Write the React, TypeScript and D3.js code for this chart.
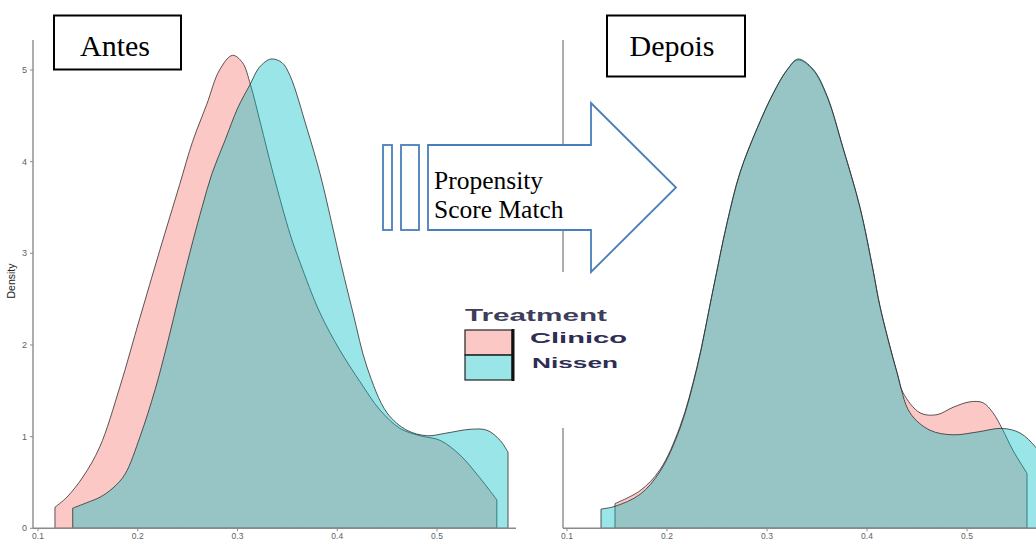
import React from "react";
import * as d3 from "d3";

// ---- Data: density estimates ----
// "Antes" (before matching)
const antesClinicoX = [0.117, 0.129, 0.145, 0.162, 0.182, 0.202, 0.222, 0.242, 0.255, 0.269, 0.282, 0.295, 0.305, 0.313, 0.323, 0.336, 0.353, 0.3627, 0.3827, 0.4028, 0.4228, 0.4429, 0.4629, 0.483, 0.503, 0.523, 0.543, 0.56];
const antesClinicoY = [0.23, 0.34, 0.56, 0.89, 1.54, 2.29, 3.03, 3.75, 4.22, 4.62, 5.0, 5.16, 5.08, 4.84, 4.42, 3.86, 3.2, 2.9, 2.35, 1.94, 1.6, 1.29, 1.09, 1.01, 0.96, 0.8, 0.55, 0.31];
const antesNissenX = [0.1348, 0.1491, 0.1622, 0.1752, 0.1872, 0.2023, 0.2173, 0.2293, 0.2423, 0.2554, 0.2644, 0.2744, 0.2874, 0.3004, 0.3125, 0.322, 0.3336, 0.3446, 0.3526, 0.3697, 0.3827, 0.3957, 0.4028, 0.4158, 0.4298, 0.4499, 0.4699, 0.49, 0.51, 0.5331, 0.5501, 0.5632, 0.5712];
const antesNissenY = [0.22, 0.28, 0.34, 0.44, 0.59, 1.0, 1.51, 2.0, 2.58, 3.14, 3.5, 3.87, 4.23, 4.59, 4.84, 5.03, 5.12, 5.08, 4.94, 4.36, 3.87, 3.27, 2.93, 2.35, 1.76, 1.26, 1.07, 1.01, 1.04, 1.08, 1.07, 0.96, 0.83];

// "Depois" (after matching)
const depoisClinicoX = [0.148, 0.173, 0.193, 0.213, 0.23, 0.246, 0.26, 0.273, 0.29, 0.306, 0.32, 0.331, 0.346, 0.36, 0.376, 0.393, 0.406, 0.413, 0.43, 0.436, 0.453, 0.47, 0.486, 0.503, 0.516, 0.526, 0.535, 0.546, 0.56];
const depoisClinicoY = [0.27, 0.41, 0.64, 1.11, 1.76, 2.6, 3.33, 3.88, 4.36, 4.74, 5.0, 5.11, 5.0, 4.71, 4.15, 3.5, 2.82, 2.42, 1.7, 1.48, 1.26, 1.24, 1.32, 1.38, 1.37, 1.26, 1.09, 0.85, 0.6];
const depoisNissenX = [0.134, 0.148, 0.173, 0.193, 0.213, 0.23, 0.246, 0.26, 0.273, 0.29, 0.306, 0.32, 0.331, 0.346, 0.36, 0.376, 0.393, 0.406, 0.413, 0.43, 0.443, 0.463, 0.486, 0.51, 0.535, 0.553, 0.569, 0.583, 0.59];
const depoisNissenY = [0.21, 0.24, 0.37, 0.62, 1.09, 1.75, 2.6, 3.33, 3.88, 4.36, 4.74, 5.0, 5.12, 5.01, 4.72, 4.15, 3.5, 2.82, 2.42, 1.7, 1.26, 1.07, 1.02, 1.05, 1.09, 1.04, 0.88, 0.64, 0.5];

const xTicks = [0.1, 0.2, 0.3, 0.4, 0.5];
const yTicks = [0, 1, 2, 3, 4, 5];
const treatments = ["Clinico", "Nissen"];
const treatmentColors = ["#F8766D", "#00BFC4"];

const zip = (xs: number[], ys: number[]) => xs.map((x, i) => [x, ys[i]] as [number, number]);

const W = 1036;
const H = 540;

const yScale = d3.scaleLinear().domain([0, 5]).range([528.3, 70]);
const xLeft = d3.scaleLinear().domain([0.1, 0.5]).range([38, 437]);
const xRight = d3.scaleLinear().domain([0.1, 0.5]).range([567, 967]);

function areaPath(xs: d3.ScaleLinear<number, number>, data: [number, number][]) {
  const gen = d3
    .area<[number, number]>()
    .x((d) => xs(d[0]))
    .y0(yScale(0))
    .y1((d) => yScale(d[1]))
    .curve(d3.curveCatmullRom.alpha(0.5));
  return gen(data) || "";
}

const axisColor = "#8a8a8a";
const tickText = "#5a5f6a";

function Panel({
  xs,
  series,
  axisX0,
  axisX1,
  showY,
}: {
  xs: d3.ScaleLinear<number, number>;
  series: [number, number][][];
  axisX0: number;
  axisX1: number;
  showY: boolean;
}) {
  return (
    <g>
      {series.map((s, i) => (
        <path
          key={i}
          d={areaPath(xs, s)}
          fill={treatmentColors[i]}
          fillOpacity={0.4}
          stroke="#2e2e2e"
          strokeWidth={0.8}
        />
      ))}
      {/* y axis */}
      <line x1={axisX0} x2={axisX0} y1={40} y2={yScale(0)} stroke={axisColor} strokeWidth={1.4} />
      {showY &&
        yTicks.map((t) => (
          <g key={t}>
            <line x1={axisX0 - 3} x2={axisX0} y1={yScale(t)} y2={yScale(t)} stroke={axisColor} strokeWidth={1} />
            <text
              x={axisX0 - 6}
              y={yScale(t)}
              dy="0.35em"
              textAnchor="end"
              fontSize={9}
              fontFamily="Liberation Sans, Arial, sans-serif"
              fill={tickText}
            >
              {t}
            </text>
          </g>
        ))}
      {/* x axis */}
      <line x1={axisX0} x2={axisX1} y1={yScale(0)} y2={yScale(0)} stroke={axisColor} strokeWidth={1.4} />
      {xTicks.map((t) => (
        <g key={t}>
          <line x1={xs(t)} x2={xs(t)} y1={yScale(0)} y2={yScale(0) + 3} stroke={axisColor} strokeWidth={1} />
          <text
            x={xs(t)}
            y={yScale(0) + 10.5}
            textAnchor="middle"
            fontSize={8.5}
            fontFamily="Liberation Sans, Arial, sans-serif"
            fill={tickText}
          >
            {t.toFixed(1)}
          </text>
        </g>
      ))}
    </g>
  );
}

export default function App() {
  const antes = [zip(antesClinicoX, antesClinicoY), zip(antesNissenX, antesNissenY)];
  const depois = [zip(depoisClinicoX, depoisClinicoY), zip(depoisNissenX, depoisNissenY)];
  const arrowColor = "#4a7ebb";
  return (
    <svg
      width={W}
      height={H}
      style={{ position: "absolute", left: 0, top: 0, display: "block", background: "#fff" }}
    >
      <rect x={0} y={0} width={W} height={H} fill="#fff" />
      <Panel xs={xLeft} series={antes} axisX0={33} axisX1={516} showY={true} />
      <text
        transform={`translate(15,${281}) rotate(-90)`}
        textAnchor="middle"
        fontSize={10.5}
        fontFamily="Liberation Sans, Arial, sans-serif"
        fill="#222"
      >
        Density
      </text>
      <Panel xs={xRight} series={depois} axisX0={563} axisX1={W} showY={false} />

      {/* legend (pasted image with white background) */}
      <rect x={455} y={272} width={185} height={156} fill="#fff" />
      <text
        x={465}
        y={321}
        fontSize={17}
        fontWeight={600}
        fontFamily="Liberation Sans, Arial, sans-serif"
        fill="#3d3d5c"
        textLength={142}
        lengthAdjust="spacingAndGlyphs"
      >
        Treatment
      </text>
      {treatments.map((t, i) => (
        <g key={t}>
          <rect
            x={465}
            y={330 + i * 25}
            width={47}
            height={25}
            fill={treatmentColors[i]}
            fillOpacity={0.4}
            stroke="#222"
            strokeWidth={1.2}
          />
          <text
            x={i === 0 ? 530 : 532}
            y={i === 0 ? 343 : 368}
            fontSize={15}
            fontWeight={600}
            fontFamily="Liberation Sans, Arial, sans-serif"
            fill="#2e2e55"
            textLength={i === 0 ? 97 : 86}
            lengthAdjust="spacingAndGlyphs"
          >
            {t}
          </text>
        </g>
      ))}
      <line x1={513} x2={513} y1={329} y2={381} stroke="#111" strokeWidth={3} />

      {/* arrow */}
      <path
        d="M428,145 L591,145 L591,103 L676,187.5 L591,272 L591,230 L428,230 Z"
        fill="#fff"
        stroke={arrowColor}
        strokeWidth={1.8}
      />
      <rect x={383} y={145} width={9} height={85} fill="#fff" stroke={arrowColor} strokeWidth={1.8} />
      <rect x={401} y={145} width={18} height={85} fill="#fff" stroke={arrowColor} strokeWidth={1.8} />
      <text x={434} y={189} fontSize={25.5} fontFamily="Liberation Serif, Times New Roman, serif" fill="#000">
        Propensity
      </text>
      <text x={434} y={218} fontSize={25.5} fontFamily="Liberation Serif, Times New Roman, serif" fill="#000">
        Score Match
      </text>

      {/* titles */}
      <rect x={54} y={15.5} width={127} height={54} fill="#fff" stroke="#000" strokeWidth={2} />
      <text x={115} y={56} textAnchor="middle" fontSize={30} fontFamily="Liberation Serif, Times New Roman, serif" fill="#000">
        Antes
      </text>
      <rect x={607} y={15.5} width={138} height={61} fill="#fff" stroke="#000" strokeWidth={2} />
      <text x={672} y={56} textAnchor="middle" fontSize={30} fontFamily="Liberation Serif, Times New Roman, serif" fill="#000">
        Depois
      </text>
    </svg>
  );
}
